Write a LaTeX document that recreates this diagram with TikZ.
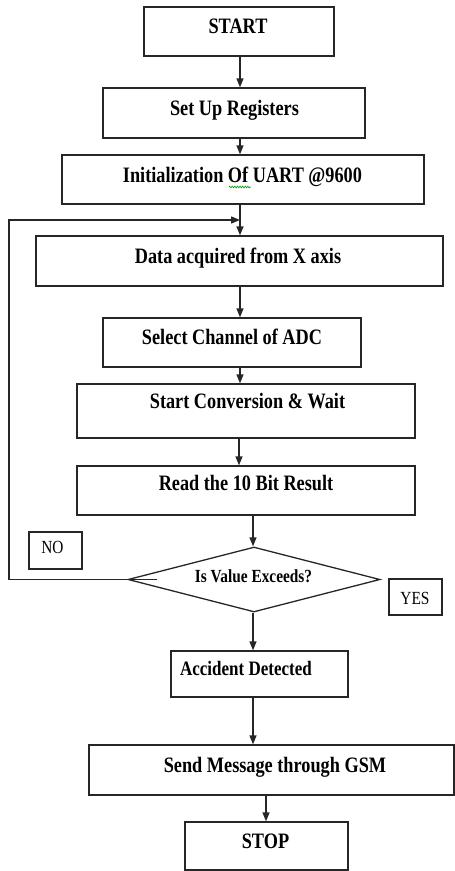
\documentclass[tikz,border=0pt]{standalone}
\usepackage{fontspec}
\setmainfont{Liberation Serif}[FakeStretch=0.83]
\usetikzlibrary{arrows.meta,shapes.geometric,decorations.pathmorphing}

\begin{document}
\begin{tikzpicture}[x=1pt,y=-1pt,
  box/.style={draw=black!85,line width=1.3pt,rectangle,inner sep=0pt},
  dia/.style={draw=black!85,line width=1.3pt,diamond,inner sep=0pt,aspect=3.9},
  lbl/.style={anchor=base,inner sep=0pt,font=\fontsize{22}{25}\selectfont\bfseries},
  small/.style={anchor=base,inner sep=0pt,font=\fontsize{18.5}{21}\selectfont},
  arr/.style={draw=black!85,line width=1.3pt,-{Triangle[length=9pt,width=7pt]}},
]
\useasboundingbox (0,0) rectangle (455,871);

% column helpers for the vertical connectors
\coordinate (c240) at (240,0);
\coordinate (c239) at (239,0);
\coordinate (c253) at (253,0);
\coordinate (c266) at (266,0);
\coordinate (loopx) at (9,0);
\coordinate (jn) at (240,220);

% process boxes
\node[box,minimum width=190,minimum height=49] (start) at (239,31.5) {};
\node[box,minimum width=262,minimum height=50] (setup) at (234,113) {};
\node[box,minimum width=362,minimum height=49] (uart) at (243,179.5) {};
\node[box,minimum width=407,minimum height=50] (data) at (239.5,261) {};
\node[box,minimum width=258,minimum height=49] (sel) at (232,342.5) {};
\node[box,minimum width=338,minimum height=54] (conv) at (246,411) {};
\node[box,minimum width=338,minimum height=49] (read) at (246,490.5) {};
\node[dia,minimum width=252,minimum height=65] (test) at (254,579.5) {};
\node[box,minimum width=53,minimum height=37] (nobox) at (55.5,550.5) {};
\node[box,minimum width=53,minimum height=36] (yesbox) at (415.5,597) {};
\node[box,minimum width=177,minimum height=46] (acc) at (259.5,674) {};
\node[box,minimum width=365,minimum height=50] (send) at (271.5,770) {};
\node[box,minimum width=163,minimum height=48] (stop) at (266.5,846) {};

% labels
\node[lbl] (tstart) at (238,33) {START};
\node[lbl] (tsetup) at (234.5,115) {Set Up Registers};
\node[lbl] (tuart) at (242.5,182) {Initialization Of UART @9600};
\node[lbl] (tdata) at (238,263) {Data acquired from X axis};
\node[lbl] (tsel) at (232,344) {Select Channel of ADC};
\node[lbl] (tconv) at (247.5,408) {Start Conversion \& Wait};
\node[lbl] (tread) at (246,490) {Read the 10 Bit Result};
\node[small,font=\fontsize{18.5}{21}\selectfont\bfseries] (ttest) at (253.5,582) {Is Value Exceeds?};
\node[small] (tno) at (52.5,553) {NO};
\node[small] (tyes) at (415,604) {YES};
\node[lbl,font=\fontsize{20.5}{23}\selectfont\bfseries] (tacc) at (246,675) {Accident Detected};
\node[lbl] (tsend) at (275,772) {Send Message through GSM};
\node[lbl] (tstop) at (265.5,848) {STOP};

% spelling squiggle under "Of"
\draw[green!60!black,line width=0.6pt,decorate,
      decoration={zigzag,segment length=2.6pt,amplitude=0.9pt}]
  (229,187) -- (251,187);

% main flow
\draw[arr] (start.south -| c240) -- (setup.north -| c240);
\draw[arr] (setup.south -| c240) -- (uart.north -| c240);
\draw[arr] (uart.south -| c240) -- (data.north -| c240);
\draw[arr] (data.south -| c240) -- (sel.north -| c240);
\draw[arr] (sel.south -| c240) -- (conv.north -| c240);
\draw[arr] (conv.south -| c239) -- (read.north -| c239);
\draw[arr] (read.south -| c253) -- (test.north -| c253);
\draw[arr] (test.south -| c253) -- (acc.north -| c253);
\draw[arr] (acc.south -| c253) -- (send.north -| c253);
\draw[arr] (send.south -| c266) -- (stop.north -| c266);

% NO branch loops back above the data box
\draw[arr] ([xshift=30pt]test.west) -- (test.west -| loopx) -- (loopx |- jn) -- (jn);

\end{tikzpicture}
\end{document}
